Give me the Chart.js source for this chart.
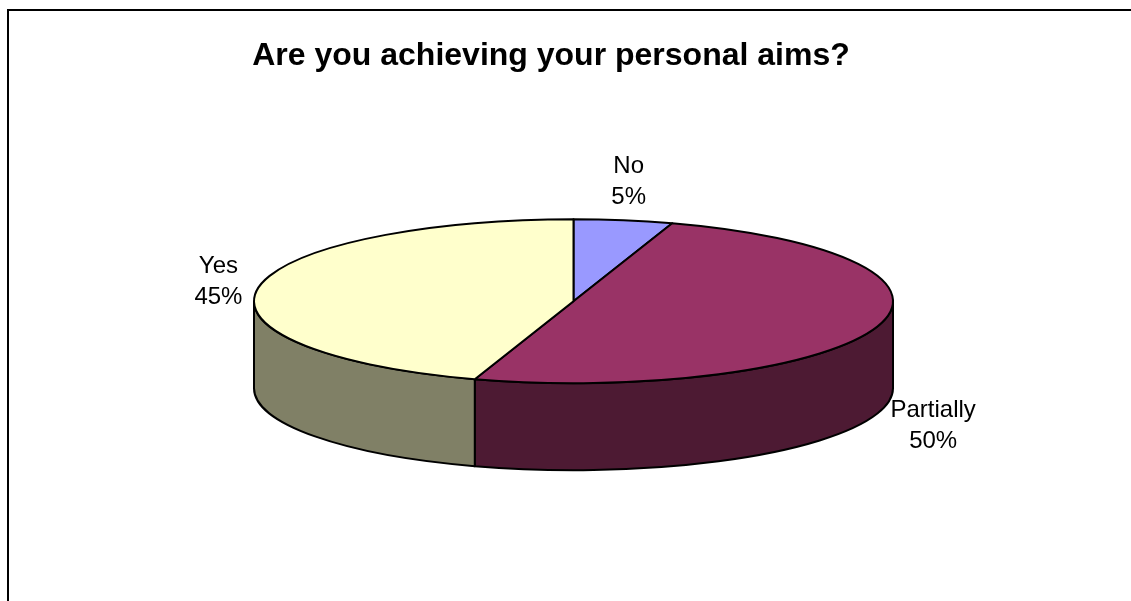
<!DOCTYPE html>
<html>
<head>
<meta charset="utf-8">
<script src="https://cdn.jsdelivr.net/npm/chart.js@4/dist/chart.umd.min.js"></script>
<style>
  body { margin: 0; background: #fff; overflow: hidden; }
  #frame { position: absolute; left: 7px; top: 9px; width: 1200px; height: 700px;
           border-left: 2px solid #000; border-top: 2px solid #000; }
  #chart { position: absolute; left: 0; top: 0; }
</style>
</head>
<body>
<div id="frame"></div>
<canvas id="chart" width="1131" height="601"></canvas>
<script>
var answers = ["No", "Partially", "Yes"];
var shares = [5, 50, 45];
var topColors = ["#9999FF", "#993366", "#FFFFCC"];

function darken(hex, f) {
  var n = parseInt(hex.slice(1), 16);
  var r = Math.round(((n >> 16) & 255) * f);
  var g = Math.round(((n >> 8) & 255) * f);
  var b = Math.round((n & 255) * f);
  return "rgb(" + r + "," + g + "," + b + ")";
}

// draws the pie as a tilted disc with a visible front wall, using the arc angles chart.js computed
var pie3d = {
  id: "pie3d",
  beforeDatasetsDraw: function (chart, args, opts) {
    var ctx = chart.ctx;
    var meta = chart.getDatasetMeta(0);
    var first = meta.data[0];
    var cx = first.x + opts.offsetX;
    var cy = first.y;
    var rx = opts.radiusX, ry = opts.radiusY, depth = opts.depth;

    ctx.save();
    ctx.lineWidth = opts.lineWidth;
    ctx.strokeStyle = "#000";
    ctx.lineJoin = "round";

    // front walls, only the part between 0 and PI faces the viewer
    meta.data.forEach(function (arc, i) {
      [-2 * Math.PI, 0, 2 * Math.PI].forEach(function (shift) {
        var a = Math.max(arc.startAngle + shift, 0);
        var b = Math.min(arc.endAngle + shift, Math.PI);
        if (b <= a) return;
        ctx.beginPath();
        ctx.ellipse(cx, cy, rx, ry, 0, a, b, false);
        ctx.lineTo(cx + rx * Math.cos(b), cy + ry * Math.sin(b) + depth);
        ctx.ellipse(cx, cy + depth, rx, ry, 0, b, a, true);
        ctx.closePath();
        ctx.fillStyle = darken(topColors[i], 0.5);
        ctx.fill();
        ctx.stroke();
      });
    });

    // top faces
    meta.data.forEach(function (arc, i) {
      ctx.beginPath();
      ctx.moveTo(cx, cy);
      ctx.ellipse(cx, cy, rx, ry, 0, arc.startAngle, arc.endAngle, false);
      ctx.closePath();
      ctx.fillStyle = topColors[i];
      ctx.fill();
      ctx.stroke();
    });

    // category + percent labels outside each slice
    var total = shares.reduce(function (s, v) { return s + v; }, 0);
    ctx.fillStyle = "#000";
    ctx.font = opts.labelFont;
    ctx.textAlign = "center";
    ctx.textBaseline = "middle";
    meta.data.forEach(function (arc, i) {
      var mid = (arc.startAngle + arc.endAngle) / 2;
      var c = Math.cos(mid), s = Math.sin(mid);
      var ax = cx + rx * c;
      var ay = cy + ry * s + (s > 0 ? depth : 0);
      var lines = [answers[i], Math.round(shares[i] / total * 100) + "%"];
      var w = Math.max.apply(null, lines.map(function (t) { return ctx.measureText(t).width; }));
      var h = opts.lineGap * (lines.length - 1) + opts.labelSize;
      var bx = ax + c * (opts.gapX + w / 2);
      var by = ay + s * (opts.gapY + h / 2);
      lines.forEach(function (t, k) {
        ctx.fillText(t, bx, by - (lines.length - 1) * opts.lineGap / 2 + k * opts.lineGap);
      });
    });
    ctx.restore();
    return false;
  }
};

new Chart(document.getElementById("chart"), {
  type: "pie",
  data: {
    labels: answers,
    datasets: [{ data: shares, backgroundColor: topColors, borderColor: "#000" }]
  },
  options: {
    responsive: false,
    animation: false,
    layout: { padding: { left: 0, right: 29, top: 0, bottom: 80 } },
    plugins: {
      legend: { display: false },
      tooltip: { enabled: false },
      title: {
        display: true,
        text: "Are you achieving your personal aims?",
        color: "#000",
        font: { family: "Arial, 'Liberation Sans', sans-serif", size: 32, weight: "bold" },
        padding: { top: 37, bottom: 6 }
      },
      pie3d: {
        offsetX: 22.5,
        radiusX: 319.5,
        radiusY: 82,
        depth: 87,
        lineWidth: 2,
        gapX: 16,
        gapY: 11,
        labelSize: 24,
        lineGap: 31,
        labelFont: "24px Arial, 'Liberation Sans', sans-serif"
      }
    }
  },
  plugins: [pie3d]
});
</script>
</body>
</html>
